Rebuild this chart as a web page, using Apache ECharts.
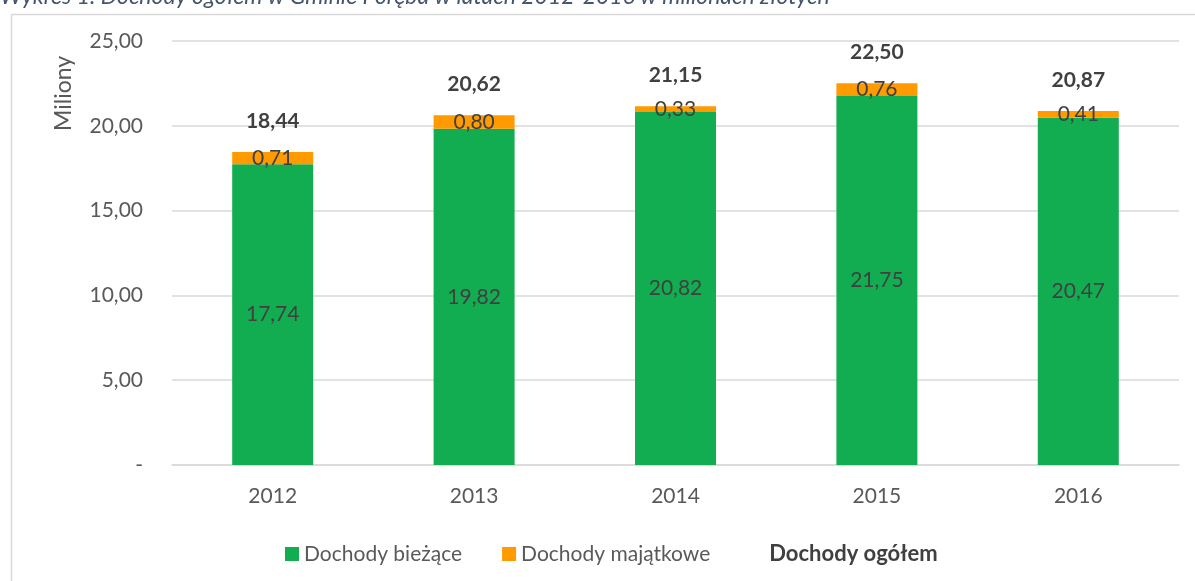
<!DOCTYPE html>
<html>
<head>
<meta charset="utf-8">
<script src="https://cdn.jsdelivr.net/npm/echarts@6/dist/echarts.min.js"></script>
<style>
  html, body { margin: 0; padding: 0; background: #fff; }
  #chart { width: 1195px; height: 581px; }
</style>
</head>
<body>
<div id="chart"></div>
<script>
// dane z wykresu (mln zł)
const years = ["2012", "2013", "2014", "2015", "2016"]
const biezace = [17.74, 19.82, 20.82, 21.75, 20.47]
const majatkowe = [0.71, 0.80, 0.33, 0.76, 0.41]
const ogolem = [18.44, 20.62, 21.15, 22.50, 20.87]

const font = "Lato, 'Noto Sans', sans-serif"
const txt = "#595959"
const fmt = (v) => (v === 0 ? "-" : v.toFixed(2).replace(".", ","))

const myChart = echarts.init(document.getElementById("chart"))

const option = {
  animation: false,
  textStyle: { fontFamily: font },
  graphic: [
    {
      type: "rect",
      left: 9,
      top: 12,
      shape: { width: 1300, height: 700 },
      style: { fill: "none", stroke: "#d9d9d9", lineWidth: 1.5 },
      silent: true,
      z: -10
    },
    {
      type: "text",
      left: 0,
      top: -15,
      style: {
        text: "Wykres 1. Dochody ogółem w Gminie Poręba w latach 2012-2016 w milionach złotych",
        font: "italic 23px " + font,
        fill: "#44546A"
      }
    },
    {
      type: "text",
      x: 52,
      y: 131,
      rotation: Math.PI / 2,
      style: {
        text: "Miliony",
        font: "23px " + font,
        fill: txt
      }
    }
  ],
  legend: {
    left: 280,
    top: 538,
    itemWidth: 14,
    itemHeight: 14,
    itemGap: 40,
    selectedMode: false,
    textStyle: { fontSize: 21, color: txt, fontFamily: font },
    data: [
      { name: "Dochody bieżące", icon: "rect" },
      { name: "Dochody majątkowe", icon: "rect" },
      {
        name: "Dochody ogółem",
        icon: "rect",
        itemStyle: { color: "transparent" },
        textStyle: { fontWeight: "bold", color: "#404040", fontSize: 22 }
      }
    ]
  },
  grid: {
    left: 172,
    right: 16,
    top: 41,
    bottom: 116
  },
  xAxis: {
    type: "category",
    data: years,
    axisLine: { lineStyle: { color: "#d9d9d9", width: 1.5 } },
    axisTick: { show: false },
    axisLabel: { color: txt, fontSize: 21, margin: 21 }
  },
  yAxis: {
    type: "value",
    min: 0,
    max: 25,
    interval: 5,
    axisLine: { show: false },
    axisTick: { show: false },
    splitLine: { lineStyle: { color: "#d9d9d9", width: 1.5 } },
    axisLabel: { color: txt, fontSize: 21, margin: 29, formatter: fmt }
  },
  series: [
    {
      name: "Dochody bieżące",
      type: "bar",
      stack: "d",
      barWidth: 81,
      data: biezace,
      itemStyle: { color: "#11AD50" },
      label: {
        show: true,
        position: "inside",
        color: "#404040",
        fontSize: 21,
        formatter: (p) => fmt(p.value)
      }
    },
    {
      name: "Dochody majątkowe",
      type: "bar",
      stack: "d",
      barWidth: 81,
      data: majatkowe,
      itemStyle: { color: "#FF9A00" },
      label: {
        show: true,
        position: "inside",
        color: "#404040",
        fontSize: 21,
        formatter: (p) => fmt(p.value)
      }
    },
    {
      name: "Dochody ogółem",
      type: "line",
      data: ogolem,
      symbol: "circle",
      symbolSize: 1,
      itemStyle: { color: "transparent" },
      lineStyle: { color: "transparent", width: 0 },
      label: {
        show: true,
        position: "top",
        distance: 20,
        color: "#404040",
        fontSize: 21,
        fontWeight: "bold",
        formatter: (p) => fmt(p.value)
      },
      z: 5
    }
  ]
}

myChart.setOption(option)
</script>
</body>
</html>
